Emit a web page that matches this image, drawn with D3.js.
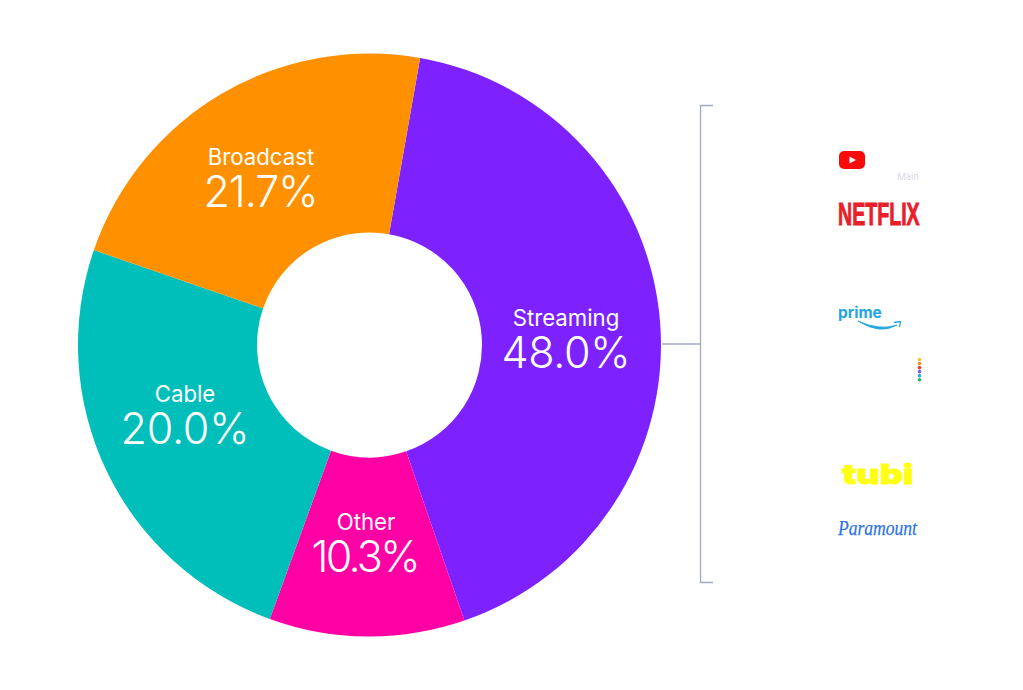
<!DOCTYPE html>
<html><head><meta charset="utf-8">
<script src="https://cdn.jsdelivr.net/npm/d3@7/dist/d3.min.js"></script>
<style>html,body{margin:0;padding:0;background:#fff}svg{display:block}text{font-family:Inter,"Noto Sans",sans-serif}</style>
</head><body><svg id="c" width="1023" height="690"></svg>
<script>
const categories = ["Streaming","Other","Cable","Broadcast"];
const labels = ["48.0%","10.3%","20.0%","21.7%"];
// Angular shares as drawn in the picture (degrees), which differ from the printed labels
const drawnShares = [151,39,89,81];
const colors = ["#7d22ff","#ff00a5","#00bfba","#ff9100"];
const labelPos = [[566,318],[366,522],[185,394],[261,157]];
const valueWidths = [129,109,129,115];
const svg = d3.select("#c");
const cx=369.5, cy=345;
const pie = d3.pie().sort(null).value(d=>d).startAngle(10*Math.PI/180).endAngle(370*Math.PI/180);
const arc = d3.arc().innerRadius(112.5).outerRadius(291.5);
const g = svg.append("g").attr("transform",`translate(${cx},${cy})`);
g.selectAll("path").data(pie(drawnShares)).join("path").attr("d",arc).attr("fill",(d,i)=>colors[i]);
const lg = svg.append("g").selectAll("g").data(categories).join("g");
lg.append("text").attr("x",(d,i)=>labelPos[i][0]).attr("y",(d,i)=>labelPos[i][1]+7.5).attr("text-anchor","middle")
  .attr("fill","#fff").attr("font-size",22.2).attr("font-weight",400).text(d=>d);
lg.append("text").attr("x",(d,i)=>labelPos[i][0]).attr("y",(d,i)=>labelPos[i][1]+50).attr("text-anchor","middle")
  .attr("fill","#fff").attr("font-size",43).attr("font-weight",300).attr("textLength",(d,i)=>valueWidths[i]).text((d,i)=>labels[i]);
// bracket
const bc="#a3a8c8";
svg.append("path").attr("d","M662,344H700.5M713,105.5H700.5V582.5H713").attr("fill","none").attr("stroke",bc).attr("stroke-width",1.3);
// logos
const yt=svg.append("g").attr("transform","translate(839,151)");
yt.append("rect").attr("width",26).attr("height",18).attr("rx",5).attr("fill","#fa0a0a");
yt.append("path").attr("d","M10.5,5.5L17,9L10.5,12.5Z").attr("fill","#fff");
svg.append("text").attr("x",908).attr("y",180).attr("text-anchor","middle").attr("font-size",9.5).attr("font-weight",300).attr("fill","#ccd0dd").text("Main");
svg.append("text").attr("transform","translate(838,224.5) scale(0.86,1.52)").style("font-family","'Liberation Sans Narrow','Liberation Sans'")
  .attr("font-size",20.5).attr("font-weight",700).attr("fill","#e8202a").attr("stroke","#e8202a").attr("stroke-width",0.6).attr("textLength",95).attr("lengthAdjust","spacingAndGlyphs").text("NETFLIX");
svg.append("text").attr("x",838).attr("y",318).attr("font-size",15.5).attr("font-weight",700).attr("fill","#22a6e0").text("prime");
svg.append("path").attr("d","M858,321Q880,335 897,325Q880,331 858,321Z").attr("fill","#22a6e0").attr("stroke","#22a6e0").attr("stroke-width",0.9);
svg.append("path").attr("d","M894,322.5L900.5,321.5L899.5,327").attr("fill","none").attr("stroke","#22a6e0").attr("stroke-width",1.3);
const peacock=["#fcc419","#fb8c1e","#ee3a34","#7c5ce0","#22a6e0","#1cb85c"];
svg.append("g").selectAll("circle").data(peacock).join("circle").attr("cx",919.5).attr("cy",(d,i)=>359.5+i*4.05).attr("r",1.8).attr("fill",d=>d);
svg.append("text").attr("transform","translate(842,484) scale(1.33,1)").attr("font-size",27).attr("font-weight",900).attr("fill","#ffff13").attr("stroke","#ffff13").attr("stroke-width",0.8).text("tubi");
svg.append("text").attr("x",838).attr("y",535).style("font-family","'Liberation Serif',serif").attr("font-style","italic").attr("font-size",21).attr("fill","#2f74e6").attr("stroke","#2f74e6").attr("stroke-width",0.25).attr("textLength",79).attr("lengthAdjust","spacingAndGlyphs").text("Paramount");
</script></body></html>
